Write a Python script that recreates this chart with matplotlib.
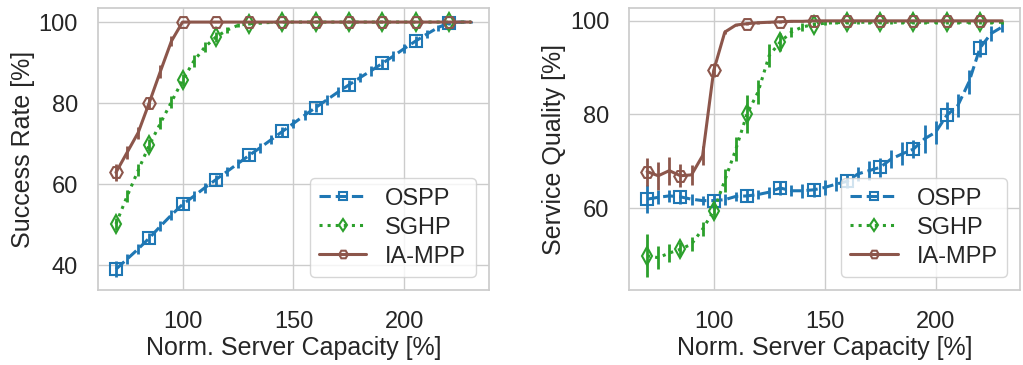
import matplotlib
matplotlib.use("Agg")
import matplotlib.pyplot as plt
import seaborn as sns

capacity = [70, 75, 80, 85, 90, 95, 100, 105, 110, 115, 120, 125, 130, 135, 140, 145, 150,
            155, 160, 165, 170, 175, 180, 185, 190, 195, 200, 205, 210, 215, 220, 225, 230]

# success rate [%]
succ_ospp = [39.0, 41.5, 44.0, 46.7, 49.6, 52.4, 55.0, 57.0, 59.1, 61.1, 63.1, 65.1, 67.1, 69.0,
             71.0, 73.0, 75.0, 77.0, 78.9, 80.8, 82.7, 84.5, 86.3, 88.0, 89.8, 91.6, 93.5, 95.3,
             97.0, 98.6, 99.8, 100.0, 100.0]
succ_ospp_err = [2.0, 1.2, 1.2, 1.3, 1.2, 1.2, 1.3, 1.2, 1.2, 1.2, 1.2, 1.2, 1.2, 1.2, 1.2, 1.2,
                 1.2, 1.2, 1.2, 1.2, 1.2, 1.2, 1.2, 1.2, 1.2, 1.2, 1.2, 1.2, 1.0, 0.8, 0.5, 0.2, 0.2]
succ_sghp = [50.2, 57.0, 63.4, 69.6, 75.0, 80.3, 85.6, 90.3, 93.8, 96.3, 98.0, 99.2, 99.6, 99.8,
             99.9, 100.0, 100.0, 100.0, 100.0, 100.0, 100.0, 100.0, 100.0, 100.0, 100.0, 100.0,
             100.0, 100.0, 100.0, 100.0, 100.0, 100.0, 100.0]
succ_sghp_err = [1.5, 1.5, 1.5, 1.5, 1.5, 1.5, 1.5, 1.5, 1.3, 1.2, 0.8, 0.5, 0.3, 0.2, 0.1, 0.0,
                 0.0, 0.0, 0.0, 0.0, 0.0, 0.0, 0.0, 0.0, 0.0, 0.0, 0.0, 0.0, 0.0, 0.0, 0.0, 0.0, 0.0]
succ_iampp = [62.9, 67.8, 72.7, 80.1, 87.8, 95.3, 100.0, 100.0, 100.0, 100.0, 100.0, 100.0,
              100.0, 100.0, 100.0, 100.0, 100.0, 100.0, 100.0, 100.0, 100.0, 100.0, 100.0, 100.0,
              100.0, 100.0, 100.0, 100.0, 100.0, 100.0, 100.0, 100.0, 100.0]
succ_iampp_err = [2.0, 1.5, 1.5, 1.5, 1.5, 1.2, 0.0, 0.0, 0.0, 0.0, 0.0, 0.0, 0.0, 0.0, 0.0, 0.0,
                  0.0, 0.0, 0.0, 0.0, 0.0, 0.0, 0.0, 0.0, 0.0, 0.0, 0.0, 0.0, 0.0, 0.0, 0.0, 0.0, 0.0]

# service quality [%]
qual_ospp = [61.9, 62.3, 62.6, 62.4, 61.9, 61.6, 61.6, 61.8, 62.5, 62.6, 62.9, 63.4, 64.3, 63.7,
             63.7, 63.9, 64.4, 65.1, 65.7, 67.3, 68.0, 68.7, 70.5, 71.6, 72.6, 74.8, 76.2, 79.8,
             81.9, 86.9, 94.2, 97.3, 98.7]
qual_ospp_err = [3.0, 1.5, 1.2, 1.5, 1.2, 1.0, 1.5, 1.2, 1.0, 1.2, 1.0, 1.2, 1.5, 1.2, 1.5, 1.5,
                 1.5, 1.5, 1.5, 1.5, 2.0, 2.0, 2.0, 2.5, 2.0, 3.0, 2.5, 2.8, 2.5, 2.5, 2.0, 1.5, 1.0]
qual_sghp = [49.8, 49.4, 50.4, 51.2, 52.3, 55.5, 59.4, 65.9, 72.6, 80.1, 84.8, 92.6, 95.5, 97.6,
             98.7, 99.2, 99.5, 99.6, 99.7, 99.7, 99.7, 99.7, 99.7, 99.7, 99.7, 99.7, 99.7, 99.7,
             99.7, 99.7, 99.7, 99.7, 99.7]
qual_sghp_err = [4.6, 2.5, 2.0, 1.5, 1.5, 1.5, 1.5, 2.5, 2.5, 4.0, 2.5, 2.5, 2.0, 1.0, 0.8, 0.5,
                 0.4, 0.3, 0.3, 0.3, 0.3, 0.3, 0.3, 0.3, 0.3, 0.3, 0.3, 0.3, 0.3, 0.3, 0.3, 0.3, 0.3]
qual_iampp = [67.8, 66.9, 68.0, 66.9, 67.1, 71.2, 89.4, 97.6, 99.1, 99.4, 99.6, 99.7, 99.8, 99.9,
              99.9, 100.0, 100.0, 100.0, 100.0, 100.0, 100.0, 100.0, 100.0, 100.0, 100.0, 100.0,
              100.0, 100.0, 100.0, 100.0, 100.0, 100.0, 100.0]
qual_iampp_err = [3.0, 3.0, 3.0, 2.5, 2.2, 2.0, 1.5, 0.5, 0.3, 0.3, 0.3, 0.2, 0.2, 0.1, 0.1, 0.0,
                  0.0, 0.0, 0.0, 0.0, 0.0, 0.0, 0.0, 0.0, 0.0, 0.0, 0.0, 0.0, 0.0, 0.0, 0.0, 0.0, 0.0]

sns.set_theme(style="whitegrid")
plt.rcParams['font.family'] = ['Liberation Sans', 'DejaVu Sans']

styles = [
    ("OSPP", "tab:blue", "--", "s"),
    ("SGHP", "tab:green", ":", "d"),
    ("IA-MPP", "tab:brown", "-", "H"),
]

fig, axes = plt.subplots(1, 2, figsize=(10.23, 3.65), dpi=100)
fig.subplots_adjust(left=0.096, right=0.997, top=0.978, bottom=0.205, wspace=0.36)

panels = [
    (axes[0], "Success Rate [%]", [40, 60, 80, 100],
     [(succ_ospp, succ_ospp_err), (succ_sghp, succ_sghp_err), (succ_iampp, succ_iampp_err)]),
    (axes[1], "Service Quality [%]", [60, 80, 100],
     [(qual_ospp, qual_ospp_err), (qual_sghp, qual_sghp_err), (qual_iampp, qual_iampp_err)]),
]

for ax, ylabel, yticks, series in panels:
    for (name, color, ls, marker), (vals, errs) in zip(styles, series):
        ax.errorbar(capacity, vals, yerr=errs, fmt="none", ecolor=color, elinewidth=2, capsize=0)
        ax.plot(capacity, vals, color=color, linestyle=ls, linewidth=2.2, marker=marker,
                markersize=9, markerfacecolor="none", markeredgewidth=1.5, markevery=3,
                label=name)
    ax.set_xlabel("Norm. Server Capacity [%]", fontsize=18, labelpad=2)
    ax.set_ylabel(ylabel, fontsize=18, labelpad=3)
    ax.set_xticks([100, 150, 200])
    ax.set_yticks(yticks)
    ax.tick_params(labelsize=17)
    ax.tick_params(axis="y", pad=8.5)
    ax.tick_params(axis="x", pad=9)
    ax.legend(loc="lower right", fontsize=17, markerscale=0.7, handlelength=2.0,
              borderaxespad=0.55, labelspacing=0.3, handletextpad=0.8)

fig.savefig("out.png")
